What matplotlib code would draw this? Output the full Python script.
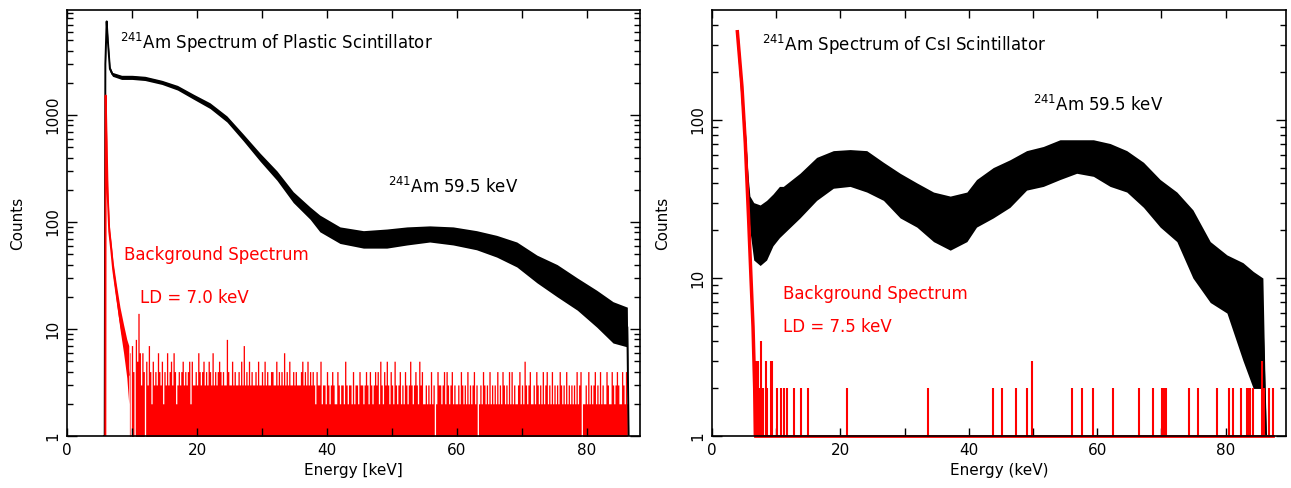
#241Am spectra of plastic and CsI scintillators, with background
import numpy as np
import matplotlib
matplotlib.use("Agg")
from matplotlib import pyplot as plt
from matplotlib.ticker import MultipleLocator, LogLocator, FuncFormatter, NullFormatter

#plastic scintillator, 241Am spectrum (noise band)
pl_E = [5.75, 5.8, 5.9, 6.1, 6.3, 6.6, 7.0, 8.4, 10, 12, 14.6, 17, 19.5, 22, 24.6, 27.1,
        29.7, 32.3, 34.8, 37.4, 38.9, 42, 45.6, 49.2, 52.3, 55.8, 59.4, 63, 66.1, 69.2,
        72.3, 75.4, 78.5, 81.5, 84, 86.2, 86.4]
pl_lo = [1, 1, 2800, 7200, 4500, 2550, 2300, 2150, 2150, 2100, 1930, 1710, 1400, 1150, 860, 575,
         370, 245, 152, 106, 81, 63, 57, 57, 61, 65, 61, 55, 47, 38,
         27, 20, 15, 10.4, 7.4, 6.8, 1]
pl_hi = [1, 1, 3200, 7800, 5100, 2850, 2500, 2350, 2350, 2300, 2110, 1890, 1560, 1300, 980, 665,
         440, 300, 192, 138, 116, 90, 83, 86, 90, 92, 90, 83, 75, 65,
         49, 40, 30, 23, 18, 16, 1]

#plastic background, steep part
plbg_E = [5.9, 5.95, 6.1, 6.25, 6.5, 6.8, 7.1, 7.6, 8.15, 8.7, 9.2, 9.5]
plbg_lo = [1, 1400, 480, 160, 70, 48, 31, 18, 10, 6, 3.5, 2]
plbg_hi = [1, 1650, 620, 220, 95, 64, 42, 26, 16, 11, 8, 7]
#plastic background counts per 0.2 keV bin from 9.6 keV (hex digits)
plbg_start = 9.6
plbg_step = 0.2
plbg_counts = ("6074085e63 6405374253 4364352436 3453642343 4534345253 "
               "3436434534 3543634345 4343384335 3433435373 4353433435 "
               "3343534334 4335343436 3435334343 3345343534 3432433523 "
               "3243234322 4323325323 3242332433 2343243234 3425324353 "
               "2432532342 3243235323 4325342232 3242312433 2342432342 "
               "3223243232 4232342312 3243232423 2324232432 3242423223 "
               "4232532342 2324323242 3423242323 2432324232 3232423402 "
               "2324232342 3242322432 2432343224 3242")

#CsI scintillator, 241Am spectrum
cs_E = [4.0, 4.6, 5.2, 5.6, 5.9, 6.5, 7.5, 8.5, 9.5, 10.5, 11.1, 13.7, 16.3, 18.9, 21.5,
        24.1, 26.7, 29.3, 31.9, 34.5, 37.1, 39.7, 41.2, 43.8, 46.4, 49.0, 51.6, 54.2,
        56.8, 59.4, 62.0, 64.6, 67.2, 69.8, 72.4, 74.9, 77.6, 80.2, 82.7, 84.3, 85.8, 86.3]
cs_hi = [370, 180, 85, 45, 33, 30, 29, 31, 34, 38, 38, 46, 58, 64, 65,
         64, 54, 46, 40, 35, 33, 35, 42, 50, 56, 64, 68, 75,
         75, 75, 71, 64, 54, 42, 35, 27, 17, 14, 12.5, 11, 10, 1]
cs_lo = [340, 150, 65, 33, 20, 13, 12, 13, 16, 18, 19, 24, 31, 37, 38,
         35, 31, 24, 21, 17, 15, 17, 21, 24, 28, 36, 38, 42,
         46, 44, 38, 35, 28, 21, 17, 10, 7, 6, 3, 2, 2, 1]

#CsI background: steep part, then isolated bins
csbg_E = [3.95, 4.67, 5.19, 5.71, 6.07, 6.39, 6.65, 6.75]
csbg_c = [362, 162, 71, 23.3, 10.1, 4.9, 2.0, 1]
csbg_end = 87.4
csbg_spk_E = [6.8, 7.0, 7.2, 7.4, 7.6, 7.9, 8.4, 8.6, 9.2, 9.4, 10.2, 10.8, 11.2, 11.7, 12.8,
              13.8, 15.0, 21.1, 33.7, 43.7, 45.1, 47.3, 49.0, 49.8, 56.0, 57.6, 59.3, 62.5,
              66.5, 68.7, 70.1, 70.4, 70.7, 74.3, 75.7, 78.6, 80.6, 81.2, 82.4, 83.3, 83.5,
              83.8, 84.2, 85.6, 85.9, 86.7, 87.4]
csbg_spk_c = [3, 2, 3, 2, 4, 2, 3, 2, 3, 3, 2, 2, 2, 2, 2,
              2, 2, 2, 2, 2, 2, 2, 2, 3, 2, 2, 2, 2,
              2, 2, 2, 2, 2, 2, 2, 2, 2, 2, 2, 2, 2,
              2, 2, 3, 2, 2, 2]

plt.rcParams['font.family'] = ['DejaVu Sans']
plt.rcParams['mathtext.fontset'] = 'dejavusans'

W, H = 1291, 488
fig = plt.figure(figsize=(W/100, H/100), dpi=100)
ax1 = fig.add_axes([67/W, 1-436/H, (640-67)/W, 426/H])
ax2 = fig.add_axes([712/W, 1-436/H, (1286-712)/W, 426/H])

def style(ax, xmax, ymax, xlabel):
    ax.set_yscale("log")
    ax.set_xlim(0, xmax)
    ax.set_ylim(1, ymax)
    ax.xaxis.set_major_locator(MultipleLocator(20))
    ax.xaxis.set_minor_locator(MultipleLocator(10))
    ax.yaxis.set_major_locator(LogLocator(base=10))
    ax.yaxis.set_minor_locator(LogLocator(base=10, subs=range(2, 10)))
    ax.yaxis.set_major_formatter(FuncFormatter(lambda v, p: "%g" % v))
    ax.yaxis.set_minor_formatter(NullFormatter())
    ax.tick_params(which="both", direction="in", top=True, right=True, width=1, color="black")
    ax.tick_params(which="major", length=7, labelsize=11, pad=5)
    ax.tick_params(which="minor", length=4.5)
    ax.tick_params(axis="x", which="both", length=6)
    ax.tick_params(axis="y", labelrotation=90)
    for lab in ax.get_yticklabels():
        lab.set_va("center")
    for s in ax.spines.values():
        s.set_linewidth(1.2)
    ax.set_xlabel(xlabel, fontsize=11, labelpad=4)
    ax.set_ylabel("Counts", fontsize=11, labelpad=14)

style(ax1, 88.15, 9580, "Energy [keV]")
style(ax2, 89.4, 497, "Energy (keV)")

#left panel
ax1.fill_between(pl_E, pl_lo, pl_hi, color="black", lw=0)
ax1.plot(pl_E, np.sqrt(np.array(pl_lo)*np.array(pl_hi)), color="black", lw=1.4)
vals = np.array([int(c, 16) for c in plbg_counts.replace(" ", "")], dtype=float)
bgE = plbg_start + plbg_step*np.arange(len(vals))
ax1.fill_between(bgE, 0.5, np.where(vals > 0, vals, 0.5), step="mid", color="red", lw=0)
ax1.fill_between(plbg_E, plbg_lo, plbg_hi, color="red", lw=0)
ax1.plot(plbg_E, np.sqrt(np.array(plbg_lo)*np.array(plbg_hi)), color="red", lw=1.4)

ax1.text(8.2, 4700, r"$^{241}$Am Spectrum of Plastic Scintillator", fontsize=12, va="center")
ax1.text(49.4, 212, r"$^{241}$Am 59.5 keV", fontsize=12, va="center")
ax1.text(8.8, 49, "Background Spectrum", fontsize=12, va="center", color="red")
ax1.text(11.2, 19.5, "LD = 7.0 keV", fontsize=12, va="center", color="red")

#right panel
ax2.fill_between(cs_E, cs_lo, cs_hi, color="black", lw=0)
ax2.plot(cs_E, np.sqrt(np.array(cs_lo)*np.array(cs_hi)), color="black", lw=1.4)
ax2.plot(csbg_E, csbg_c, color="red", lw=2.5)
ax2.plot([csbg_E[-1], csbg_end], [1, 1], color="red", lw=2, clip_on=False)
ax2.vlines(csbg_spk_E, 1, csbg_spk_c, color="red", lw=1.5)

ax2.text(7.8, 298, r"$^{241}$Am Spectrum of CsI Scintillator", fontsize=12, va="center")
ax2.text(50.0, 124, r"$^{241}$Am 59.5 keV", fontsize=12, va="center")
ax2.text(11.1, 7.9, "Background Spectrum", fontsize=12, va="center", color="red")
ax2.text(11.1, 4.9, "LD = 7.5 keV", fontsize=12, va="center", color="red")

fig.savefig("out.png", dpi=100)
